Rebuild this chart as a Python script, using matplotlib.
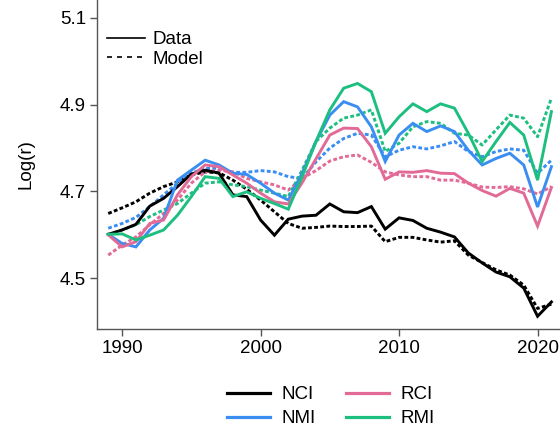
import matplotlib
matplotlib.use("Agg")
import matplotlib.pyplot as plt
from matplotlib.lines import Line2D

plt.rcParams['font.family'] = ['Liberation Sans', 'DejaVu Sans']

years = list(range(1989, 2022))

nci_data = [4.601, 4.611, 4.624, 4.666, 4.684, 4.711, 4.740, 4.749, 4.742, 4.692,
            4.688, 4.634, 4.599, 4.636, 4.643, 4.645, 4.671, 4.653, 4.651, 4.665,
            4.613, 4.639, 4.633, 4.615, 4.606, 4.595, 4.558, 4.535, 4.514, 4.503,
            4.477, 4.412, 4.445]
nci_model = [4.649, 4.662, 4.676, 4.696, 4.711, 4.722, 4.738, 4.745, 4.743, 4.726,
             4.705, 4.680, 4.653, 4.626, 4.615, 4.617, 4.620, 4.619, 4.619, 4.620,
             4.584, 4.594, 4.594, 4.588, 4.583, 4.586, 4.553, 4.536, 4.519, 4.507,
             4.484, 4.430, 4.440]
nmi_data = [4.601, 4.580, 4.572, 4.611, 4.638, 4.726, 4.749, 4.772, 4.761, 4.742,
            4.739, 4.719, 4.696, 4.680, 4.742, 4.815, 4.876, 4.907, 4.895, 4.849,
            4.769, 4.830, 4.857, 4.838, 4.851, 4.838, 4.795, 4.761, 4.776, 4.788,
            4.761, 4.664, 4.757]
nmi_model = [4.615, 4.626, 4.640, 4.665, 4.692, 4.719, 4.742, 4.753, 4.753, 4.744,
             4.744, 4.748, 4.745, 4.734, 4.730, 4.768, 4.800, 4.822, 4.834, 4.830,
             4.780, 4.795, 4.803, 4.798, 4.805, 4.815, 4.792, 4.780, 4.792, 4.798,
             4.795, 4.742, 4.772]
rci_data = [4.600, 4.572, 4.584, 4.626, 4.634, 4.692, 4.734, 4.761, 4.757, 4.738,
            4.719, 4.696, 4.676, 4.671, 4.720, 4.775, 4.830, 4.846, 4.845, 4.803,
            4.728, 4.745, 4.744, 4.748, 4.742, 4.741, 4.719, 4.702, 4.689, 4.707,
            4.696, 4.620, 4.709]
rci_model = [4.553, 4.576, 4.595, 4.623, 4.649, 4.680, 4.719, 4.745, 4.749, 4.745,
             4.730, 4.722, 4.715, 4.703, 4.730, 4.748, 4.770, 4.780, 4.784, 4.767,
             4.745, 4.738, 4.734, 4.734, 4.726, 4.726, 4.719, 4.710, 4.709, 4.711,
             4.706, 4.694, 4.711]
rmi_data = [4.601, 4.602, 4.588, 4.599, 4.611, 4.645, 4.688, 4.734, 4.730, 4.688,
            4.699, 4.684, 4.672, 4.659, 4.734, 4.815, 4.888, 4.938, 4.949, 4.930,
            4.834, 4.872, 4.902, 4.884, 4.902, 4.892, 4.834, 4.769, 4.815, 4.859,
            4.830, 4.726, 4.884]
rmi_model = [4.600, 4.611, 4.623, 4.642, 4.657, 4.672, 4.696, 4.719, 4.722, 4.715,
             4.711, 4.703, 4.696, 4.688, 4.749, 4.815, 4.846, 4.869, 4.876, 4.888,
             4.792, 4.811, 4.849, 4.861, 4.857, 4.834, 4.830, 4.807, 4.842, 4.876,
             4.869, 4.826, 4.915]

series_names = ['NCI', 'NMI', 'RCI', 'RMI']
colors = {'NCI': '#000000', 'NMI': '#3A8EF2', 'RCI': '#E26A96', 'RMI': '#1DBF80'}
data = {'NCI': (nci_data, nci_model), 'NMI': (nmi_data, nmi_model),
        'RCI': (rci_data, rci_model), 'RMI': (rmi_data, rmi_model)}

xticks = [1990, 2000, 2010, 2020]
yticks = [4.5, 4.7, 4.9, 5.1]

FS = 13.5
fig = plt.figure(figsize=(5.6, 4.36), dpi=100)
ax = fig.add_axes([97/560, 1 - 329/436, 1 - 97/560, 329/436])

lw = 2.1
for name in series_names:
    d, m = data[name]
    ax.plot(years, m, color=colors[name], lw=lw, linestyle=(0, (1.3, 0.8)),
            solid_capstyle='butt', dash_capstyle='butt')
for name in series_names:
    d, m = data[name]
    ax.plot(years, d, color=colors[name], lw=lw, solid_joinstyle='miter')

ax.set_xlim(1988.19, 2021.62)
ax.set_ylim(4.3826, 5.1415)
ax.set_xticks(xticks)
ax.set_yticks(yticks)
ax.set_yticklabels(['%.1f' % v for v in yticks])
for s in ['top', 'right']:
    ax.spines[s].set_visible(False)
for s in ['left', 'bottom']:
    ax.spines[s].set_color('#555555')
    ax.spines[s].set_linewidth(1.0)
ax.tick_params(direction='out', length=5, width=1.0, color='#555555',
               labelsize=FS, pad=3)
ax.set_ylabel('Log(r)', fontsize=FS, labelpad=18.5)

h1 = [Line2D([], [], color='black', lw=1.2),
      Line2D([], [], color='black', lw=1.2, linestyle=(0, (3, 3)))]
fig.legend(h1, ['Data', 'Model'], loc='upper left', frameon=False,
           bbox_to_anchor=(107/560, 1 - 31/436), fontsize=FS, handlelength=2.0,
           handletextpad=0.42, labelspacing=0.12, borderpad=0, borderaxespad=0)

h2 = [Line2D([], [], color=colors[n], lw=2.3) for n in series_names]
fig.legend(h2, ['NCI', 'NMI', 'RCI', 'RMI'],
           ncol=2, loc='upper left', bbox_to_anchor=(227/560, 1 - 386/436),
           frameon=False, fontsize=FS, handlelength=2.3, handletextpad=0.6,
           columnspacing=1.6, labelspacing=0.38, borderpad=0, borderaxespad=0)

fig.savefig('out.png', dpi=100)
